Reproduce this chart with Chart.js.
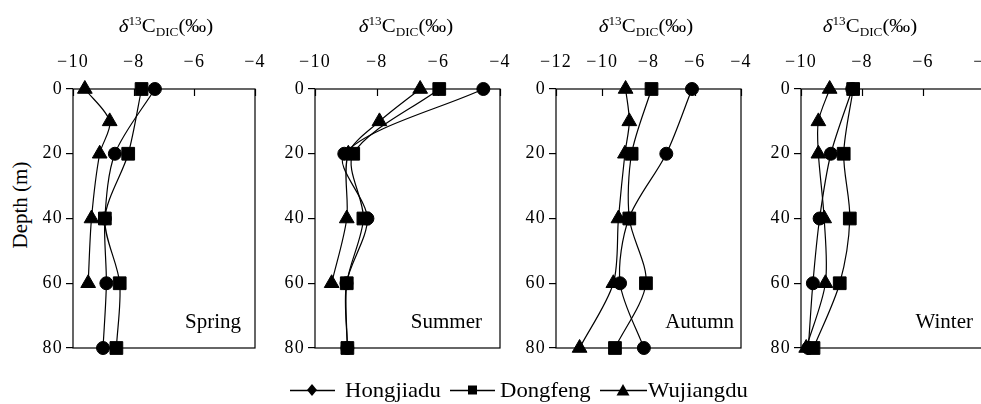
<!DOCTYPE html>
<html><head><meta charset="utf-8">
<script src="https://cdn.jsdelivr.net/npm/chart.js@4.4.0/dist/chart.umd.min.js"></script>
<style>
html,body{margin:0;padding:0;background:#fff;overflow:hidden;width:981px;height:404px;}
body{position:relative;font-family:"Liberation Serif","Times New Roman",serif;color:#000;}
.pc{position:absolute;top:0;}
.ttl{position:absolute;top:15px;width:200px;text-align:center;font-size:19px;line-height:22px;white-space:nowrap;transform:scaleX(1.1);}
.ttl i{font-style:italic;}
.ttl sup{font-size:12px;vertical-align:0;position:relative;top:-7px;}
.ttl sub{font-size:12px;vertical-align:0;position:relative;top:4px;}
#ylab{position:absolute;left:-30px;top:193px;width:100px;text-align:center;font-size:21px;line-height:24px;transform:rotate(-90deg);white-space:nowrap;}
.lg{position:absolute;top:378px;height:24px;font-size:21px;line-height:24px;white-space:nowrap;}
.lg svg{position:absolute;top:5px;left:0;}
.lg span{position:absolute;top:0;transform:scaleX(1.08);transform-origin:0 50%;}
</style>
</head><body>
<div id="ylab">Depth (m)</div>
<script>
// ---------------- data ----------------
const depths = [0, 10, 20, 40, 60, 80];
const depthTicks = [0, 20, 40, 60, 80];
const seriesNames = ['Hongjiadu', 'Dongfeng', 'Wujiangdu'];
const seasons = ['Spring', 'Summer', 'Autumn', 'Winter'];

const springHongjiadu = [-7.30, null, -8.62, -8.95, -8.90, -9.01];
const springDongfeng  = [-7.74, null, -8.18, -8.95, -8.46, -8.57];
const springWujiangdu = [-9.61, -8.79, -9.12, -9.39, -9.50, null];

const summerHongjiadu = [-4.54, null, -9.05, -8.30, -8.98, -8.95];
const summerDongfeng  = [-5.97, null, -8.76, -8.43, -8.97, -8.95];
const summerWujiangdu = [-6.59, -7.91, -8.92, -8.97, -9.46, null];

const autumnHongjiadu = [-6.12, null, -7.23, -8.85, -9.23, -8.20];
const autumnDongfeng  = [-7.87, null, -8.73, -8.83, -8.11, -9.45];
const autumnWujiangdu = [-8.99, -8.83, -9.02, -9.30, -9.52, -10.98];

const winterHongjiadu = [-8.32, null, -9.02, -9.39, -9.61, -9.76];
const winterDongfeng  = [-8.29, null, -8.60, -8.40, -8.73, -9.59];
const winterWujiangdu = [-9.06, -9.43, -9.43, -9.24, -9.20, -9.83];

const xTicksSpring = [-10, -8, -6, -4];
const xTicksSummer = [-10, -8, -6, -4];
const xTicksAutumn = [-12, -10, -8, -6, -4];
const xTicksWinter = [-10, -8, -6, -4];

// ---------------- layout / style ----------------
const panelBoxes = [
  {left: 73, right: 255, labelOff: 14, titleX: 166},
  {left: 315, right: 500, labelOff: 18, titleX: 406},
  {left: 556, right: 741, labelOff: 7, titleX: 646},
  {left: 801, right: 984, labelOff: 11, titleX: 870}
];
const TOP = 89, BOTTOM = 348, AX = 60, PADR = 32, TOPH = 40, H = 362;
const pStyles = ['circle', 'rect', 'triangle'];
const pRadius = [6.5, 9, 8.5];

Chart.defaults.font.family = '"Liberation Serif","Times New Roman",serif';
Chart.defaults.color = '#000';

const framePlugin = {
  id: 'frame',
  beforeInit(chart) { try { chart.ctx.letterSpacing = '1.2px'; } catch (e) {} },
  beforeDraw(chart) { try { chart.ctx.letterSpacing = '1.2px'; } catch (e) {} },
  beforeDatasetsDraw(chart) {
    const {ctx, chartArea: a} = chart;
    const x = chart.scales.x;
    ctx.save();
    ctx.strokeStyle = '#000';
    ctx.lineWidth = 1.2;
    ctx.strokeRect(a.left, a.top, a.right - a.left, a.bottom - a.top);
    x.ticks.forEach(t => {
      const px = Math.round(x.getPixelForValue(t.value)) + 0.5;
      ctx.beginPath(); ctx.moveTo(px, a.top); ctx.lineTo(px, a.top + 7); ctx.stroke();
    });
    ctx.restore();
  },
  afterDatasetsDraw(chart, args, opts) {
    const {ctx, chartArea: a} = chart;
    ctx.save();
    try { ctx.letterSpacing = '0px'; } catch (e) {}
    ctx.fillStyle = '#000';
    ctx.font = '21px "Liberation Serif","Times New Roman",serif';
    ctx.textAlign = 'right';
    ctx.textBaseline = 'alphabetic';
    ctx.fillText(opts.label, a.right - opts.offset, a.bottom - 20);
    ctx.restore();
  }
};

function fmt(v) { return String(v).replace('-', '\u2212'); }

function makePanel(i, series, xTicks) {
  const box = panelBoxes[i];
  const w = box.right - box.left + AX + PADR;
  const wrap = document.createElement('div');
  wrap.className = 'pc';
  wrap.style.left = (box.left - AX) + 'px';
  wrap.style.width = w + 'px';
  wrap.style.height = H + 'px';
  const cv = document.createElement('canvas');
  cv.width = w; cv.height = H;
  cv.style.width = w + 'px'; cv.style.height = H + 'px';
  wrap.appendChild(cv);
  document.body.appendChild(wrap);

  const t = document.createElement('div');
  t.className = 'ttl';
  t.style.left = (box.titleX - 100) + 'px';
  t.innerHTML = '<i>\u03B4</i><sup>13</sup>C<sub>DIC</sub>(\u2030)';
  document.body.appendChild(t);

  const datasets = series.map((vals, k) => ({
    label: seriesNames[k],
    data: depths.map((d, j) => vals[j] == null ? null : {x: vals[j], y: d}).filter(p => p),
    showLine: true,
    borderColor: '#000',
    backgroundColor: '#000',
    borderWidth: 1.2,
    tension: 0.3,
    pointStyle: pStyles[k],
    pointRadius: pRadius[k],
    pointBorderWidth: 1,
    pointBorderColor: '#000',
    pointBackgroundColor: '#000',
    clip: false
  })).reverse();

  new Chart(cv, {
    type: 'scatter',
    data: {datasets},
    options: {
      responsive: false,
      animation: false,
      events: [],
      layout: {padding: {left: 0, right: PADR, top: TOP - TOPH, bottom: H - BOTTOM}},
      plugins: {
        legend: {display: false},
        tooltip: {enabled: false},
        frame: {label: seasons[i], offset: box.labelOff}
      },
      scales: {
        x: {
          type: 'linear', position: 'top',
          min: xTicks[0], max: xTicks[xTicks.length - 1],
          afterBuildTicks: s => { s.ticks = xTicks.map(v => ({value: v})); },
          afterFit: s => { s.height = TOPH; },
          grid: {display: false, drawTicks: false},
          border: {display: false},
          ticks: {padding: 16, autoSkip: false, maxRotation: 0, color: '#000',
                  font: {size: 18}, callback: v => fmt(v)}
        },
        y: {
          type: 'linear', reverse: true, min: 0, max: 80,
          afterBuildTicks: s => { s.ticks = depthTicks.map(v => ({value: v})); },
          afterFit: s => { s.width = AX; },
          grid: {drawOnChartArea: false, drawTicks: true, tickLength: 7, color: '#000', lineWidth: 1.2},
          border: {display: false},
          ticks: {padding: 3, color: '#000', font: {size: 18}, callback: v => String(v)}
        }
      }
    },
    plugins: [framePlugin]
  });
}

makePanel(0, [springHongjiadu, springDongfeng, springWujiangdu], xTicksSpring);
makePanel(1, [summerHongjiadu, summerDongfeng, summerWujiangdu], xTicksSummer);
makePanel(2, [autumnHongjiadu, autumnDongfeng, autumnWujiangdu], xTicksAutumn);
makePanel(3, [winterHongjiadu, winterDongfeng, winterWujiangdu], xTicksWinter);

// ---------------- legend ----------------
const legendItems = [
  {name: seriesNames[0], left: 290, lineW: 45, textX: 55, shape: 'M22,1 L27,7 L22,13 L17,7 Z'},
  {name: seriesNames[1], left: 450, lineW: 45, textX: 50, shape: 'M18,2.5 L27,2.5 L27,11.5 L18,11.5 Z'},
  {name: seriesNames[2], left: 600, lineW: 47, textX: 48, shape: 'M23,1 L29.5,12.5 L16.5,12.5 Z'}
];
legendItems.forEach(it => {
  const d = document.createElement('div');
  d.className = 'lg';
  d.style.left = it.left + 'px';
  d.innerHTML = '<svg width="' + it.lineW + '" height="14"><line x1="0" y1="7.5" x2="' + it.lineW +
    '" y2="7.5" stroke="#000" stroke-width="1.3"/><path d="' + it.shape + '" fill="#000"/></svg>' +
    '<span style="left:' + it.textX + 'px">' + it.name + '</span>';
  document.body.appendChild(d);
});
</script>
</body></html>
